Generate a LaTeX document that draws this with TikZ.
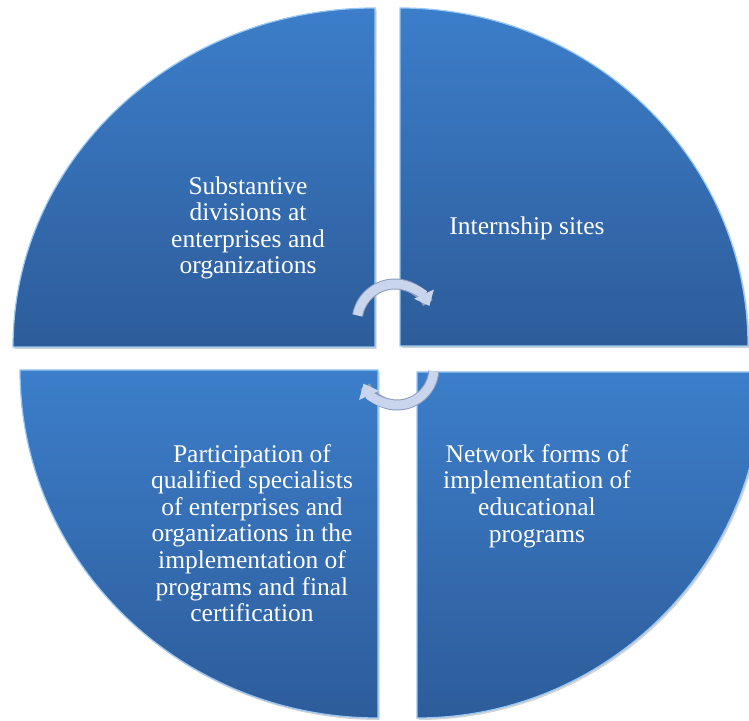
\documentclass[tikz,border=0pt]{standalone}
\usepackage{fontspec}
\setmainfont{Liberation Serif}
\usetikzlibrary{arrows.meta,shadows}
\definecolor{qtop}{RGB}{60,126,202}
\definecolor{qbot}{RGB}{45,92,154}
\definecolor{qedge}{RGB}{150,200,245}
\definecolor{arrc}{RGB}{200,213,236}
\definecolor{arrd}{RGB}{140,156,190}
\tikzset{
  quad/.style={top color=qtop, bottom color=qbot, draw=qedge, line width=1.2pt,
    drop shadow={opacity=0.35, shadow xshift=1.5pt, shadow yshift=-2pt}},
  qtext/.style={text=white, align=center, font=\fontsize{25.5}{26.6}\selectfont, inner sep=0pt},
  cyc/.style={line width=9pt, draw=arrc, -{Triangle[length=13pt,width=21pt]}},
  cycline/.style={line width=11pt, draw=arrd}
}
\begin{document}
\begin{tikzpicture}[x=1pt,y=1pt]
\useasboundingbox (0,0) rectangle (749,720);
\clip (0,0) rectangle (749,720);
% top-left
\path[quad] (375,373) -- (13,373) arc[start angle=180, end angle=90, x radius=362, y radius=339] -- cycle;
% top-right
\path[quad] (400,374) -- (400,712) arc[start angle=90, end angle=0, x radius=348, y radius=338] -- cycle;
% bottom-left
\path[quad] (378,350) -- (20,350) arc[start angle=180, end angle=270, x radius=358, y radius=348] -- cycle;
% bottom-right
\path[quad] (417,348) -- (417,2) arc[start angle=270, end angle=360, radius=346] -- cycle;

\node[qtext] (tl) at (248,492) {Substantive\\divisions at\\enterprises and\\organizations};
\node[qtext] (tr) at (527,492) {Internship sites};
\node[qtext] (bl) at (252,187) {Participation of\\qualified specialists\\of enterprises and\\organizations in the\\implementation of\\programs and final\\certification};
\node[qtext] (br) at (537,224) {Network forms of\\implementation of\\educational\\programs};

% cycle arrows
\coordinate (c1) at (395,398);
\coordinate (c2) at (397,352);
\draw[cycline] ([shift={(170:38)}]c1) arc[start angle=170, end angle=30, radius=38];
\draw[cyc] ([shift={(170:38)}]c1) arc[start angle=170, end angle=25, radius=38];
\draw[cycline] ([shift={(-5:37)}]c2) arc[start angle=-5, end angle=-150, radius=37];
\draw[cyc] ([shift={(-5:37)}]c2) arc[start angle=-5, end angle=-155, radius=37];
\end{tikzpicture}
\end{document}
